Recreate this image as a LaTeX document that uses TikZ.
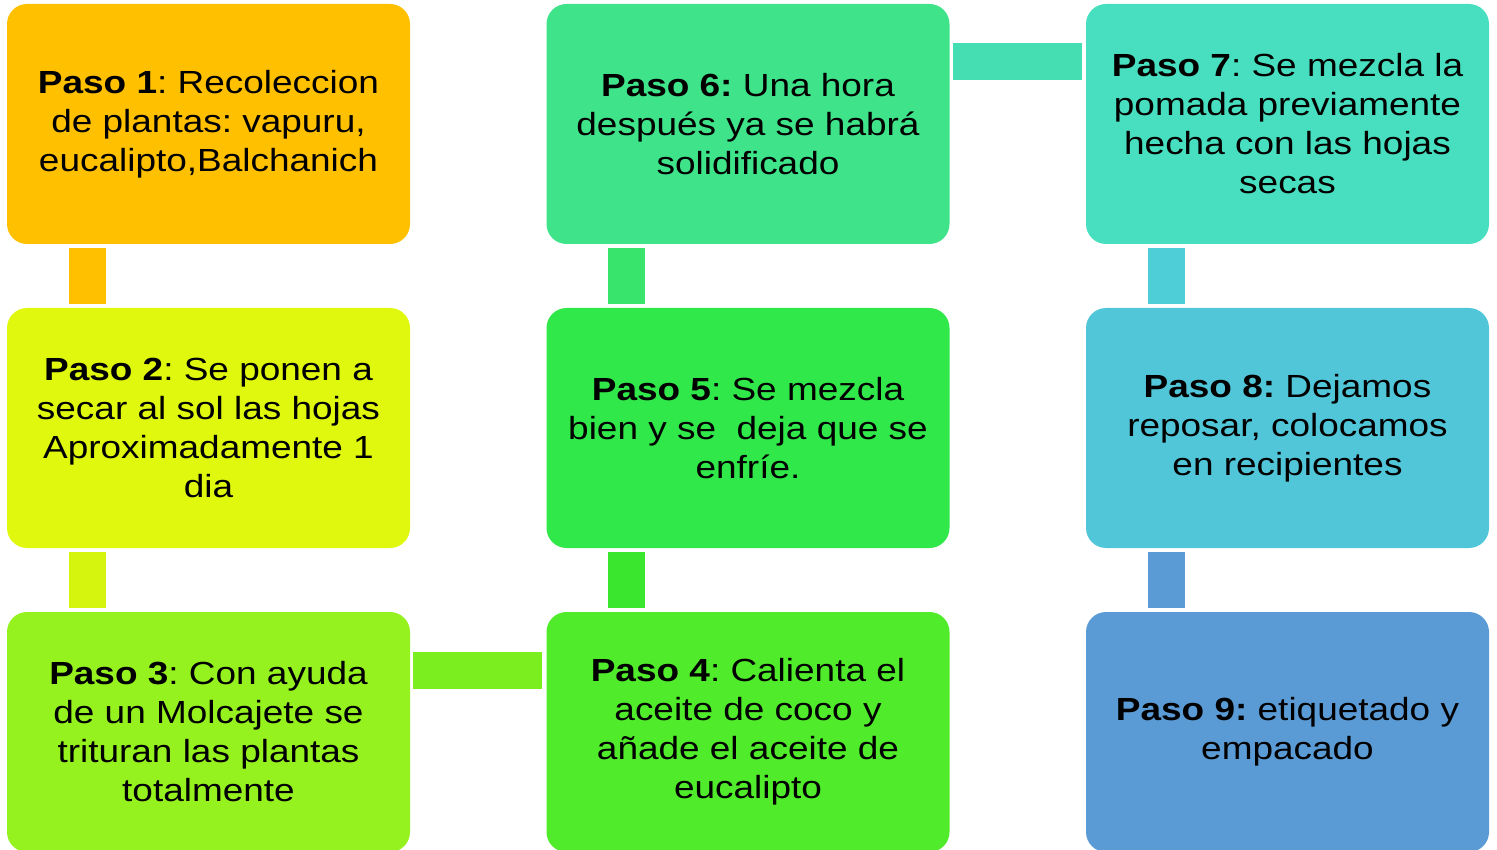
\documentclass[tikz,border=0pt]{standalone}
\usepackage{fontspec}
\setmainfont{Liberation Sans}[FakeStretch=1.155]
\frenchspacing
\definecolor{cA}{HTML}{FFC000}
\definecolor{cB}{HTML}{E0F80E}
\definecolor{cC}{HTML}{96F21E}
\definecolor{cD}{HTML}{50EB2A}
\definecolor{cE}{HTML}{30E84A}
\definecolor{cF}{HTML}{3EE38A}
\definecolor{cG}{HTML}{47DFBF}
\definecolor{cH}{HTML}{52C6D9}
\definecolor{cI}{HTML}{5B9BD5}
\definecolor{kA}{HTML}{FFC000}
\definecolor{kB}{HTML}{D5F50F}
\definecolor{kC}{HTML}{7BEE1F}
\definecolor{kD}{HTML}{3BE62F}
\definecolor{kE}{HTML}{38E46C}
\definecolor{kF}{HTML}{45DDB2}
\definecolor{kG}{HTML}{4ECFD8}
\definecolor{kH}{HTML}{5B9BD5}
\tikzset{
  box/.style={rectangle, rounded corners=20pt, minimum width=403pt, minimum height=240pt,
    inner sep=0pt, align=center, text=black, font=\fontsize{32}{39}\selectfont},
  vbar/.style={line width=37pt},
  hbar/.style={line width=37pt}
}
\begin{document}
\begin{tikzpicture}[x=1pt,y=-1pt]
\useasboundingbox (0,0) rectangle (1497,850);
\node[box, fill=cA] (b1) at (208.5,124) {\textbf{Paso 1}: Recoleccion\\de plantas: vapuru,\\eucalipto,Balchanich};
\node[box, fill=cB] (b2) at (208.5,428) {\textbf{Paso 2}: Se ponen a\\secar al sol las hojas\\Aproximadamente 1\\dia};
\node[box, fill=cC] (b3) at (208.5,732) {\textbf{Paso 3}: Con ayuda\\de un Molcajete se\\trituran las plantas\\totalmente};
\node[box, fill=cD] (b4) at (748,732) {\textbf{Paso 4}: Calienta el\\aceite de coco y\\añade el aceite de\\eucalipto};
\node[box, fill=cE] (b5) at (748,428) {\textbf{Paso 5}: Se mezcla\\bien y se\ \ deja que se\\enfríe.};
\node[box, fill=cF] (b6) at (748,124) {\textbf{Paso 6:} Una hora\\después ya se habrá\\solidificado};
\node[box, fill=cG] (b7) at (1287.5,124) {\textbf{Paso 7}: Se mezcla la\\pomada previamente\\hecha con las hojas\\secas};
\node[box, fill=cH] (b8) at (1287.5,428) {\textbf{Paso 8:} Dejamos\\reposar, colocamos\\en recipientes};
\node[box, fill=cI] (b9) at (1287.5,732) {\textbf{Paso 9:} etiquetado y\\empacado};
% vertical connectors
\draw[vbar, kA] ([shift={(80.5pt,-4pt)}]b1.south west) -- ([shift={(80.5pt,4pt)}]b2.north west);
\draw[vbar, kB] ([shift={(80.5pt,-4pt)}]b2.south west) -- ([shift={(80.5pt,4pt)}]b3.north west);
\draw[vbar, kD] ([shift={(80.5pt,4pt)}]b4.north west) -- ([shift={(80.5pt,-4pt)}]b5.south west);
\draw[vbar, kE] ([shift={(80.5pt,4pt)}]b5.north west) -- ([shift={(80.5pt,-4pt)}]b6.south west);
\draw[vbar, kG] ([shift={(80.5pt,-4pt)}]b7.south west) -- ([shift={(80.5pt,4pt)}]b8.north west);
\draw[vbar, kH] ([shift={(80.5pt,-4pt)}]b8.south west) -- ([shift={(80.5pt,4pt)}]b9.north west);
% horizontal connectors
\draw[hbar, kC] ([shift={(3pt,-58.5pt)}]b3.north east) -- ([shift={(-4pt,-58.5pt)}]b4.north west);
\draw[hbar, kF] ([shift={(3pt,-58pt)}]b6.north east) -- ([shift={(-4pt,-58pt)}]b7.north west);
\end{tikzpicture}
\end{document}
